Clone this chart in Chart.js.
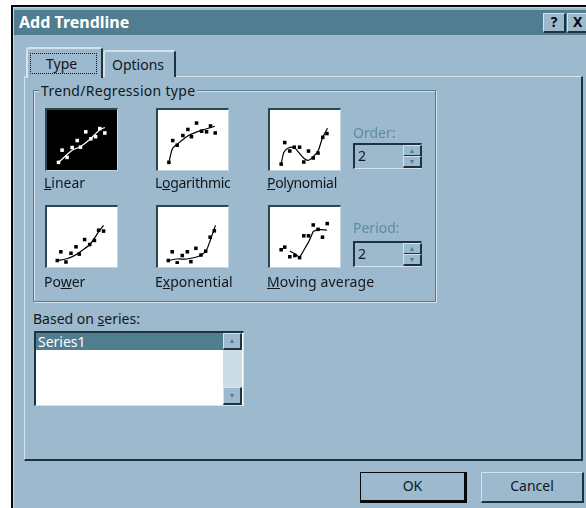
<!DOCTYPE html>
<html>
<head>
<meta charset="utf-8">
<title>Add Trendline</title>
<script src="https://cdn.jsdelivr.net/npm/chart.js@4"></script>
<style>
  html, body { margin: 0; padding: 0; background: #fff; }
  body { width: 586px; height: 508px; position: relative; overflow: hidden; font: 14px "Noto Sans", sans-serif; color: #10181e; }
  .abs { position: absolute; box-sizing: border-box; }
  .lbl { position: absolute; white-space: nowrap; line-height: 16px; }
  .dialog { left: 11px; top: 5px; width: 580px; height: 510px; background: #9cb9cd; border-left: 2px solid #05090c; border-top: 2px solid #05090c; box-shadow: inset 1px 1px 0 #c4d6e2; }
  .title { left: 14px; top: 10px; width: 572px; height: 25px; background: #507d90; color: #fff; font-weight: 700; font-size: 16px; line-height: 25px; padding-left: 5px; }
  .raised { background: #9cb9cd; border-top: 1px solid #d3e2eb; border-left: 1px solid #d3e2eb; border-right: 2px solid #1d333f; border-bottom: 2px solid #1d333f; }
  .panel { left: 24px; top: 76px; width: 559px; height: 385px; }
  .tab { background: #9cb9cd; border-top: 2px solid #d3e2eb; border-left: 2px solid #d3e2eb; border-right: 2px solid #1d333f; border-radius: 3px 3px 0 0; text-align: center; }
  .focus { border: 1px dotted #10181e; }
  .group { left: 33px; top: 90px; width: 403px; height: 212px; border: 1px solid #4f7c8e; box-shadow: 1px 1px 0 #d3e2eb, inset 1px 1px 0 #d3e2eb; }
  .legend { background: #9cb9cd; padding: 0 2px; }
  .thumb { width: 73px; height: 63px; }
  .frame { width: 73px; height: 63px; border-top: 2px solid #2b4653; border-left: 2px solid #2b4653; border-right: 1px solid #c4d6e2; border-bottom: 1px solid #c4d6e2; pointer-events: none; }
  .field { width: 69px; height: 26px; border-top: 2px solid #1d333f; border-left: 2px solid #1d333f; border-right: 1px solid #d3e2eb; border-bottom: 1px solid #d3e2eb; padding-left: 3px; line-height: 22px; }
  .spin { width: 19px; height: 12px; font-size: 7px; line-height: 9px; text-align: center; color: #507d90; }
  .list { left: 34px; top: 331px; width: 210px; height: 75px; background: #fff; border-top: 2px solid #1d333f; border-left: 2px solid #1d333f; border-right: 1px solid #d3e2eb; border-bottom: 1px solid #d3e2eb; }
  .btn { text-align: center; line-height: 26px; }
</style>
</head>
<body>
<div class="abs dialog"></div>
<div class="abs title">Add Trendline</div>
<div class="abs raised btn" style="left:543px;top:13px;width:23px;height:20px;line-height:16px;font-weight:700;font-size:14px;color:#05090c">?</div>
<div class="abs raised btn" style="left:567px;top:13px;width:23px;height:20px;line-height:16px;font-weight:700;font-size:14px;color:#05090c;text-align:left;padding-left:5px">X</div>

<div class="abs raised panel"></div>
<div class="abs tab" style="left:26px;top:47px;width:77px;height:31px"></div>
<div class="abs focus" style="left:30px;top:53px;width:67px;height:21px"></div>
<div class="lbl" style="left:46px;top:56px">Type</div>
<div class="abs tab" style="left:103px;top:50px;width:73px;height:27px"></div>
<div class="lbl" style="left:112px;top:57px">Options</div>

<div class="abs group"></div>
<div class="lbl legend" style="left:39px;top:83px;letter-spacing:.3px">Trend/Regression type</div>

<canvas class="abs thumb" id="linear" width="73" height="63" style="left:45px;top:108px"></canvas>
<canvas class="abs thumb" id="logarithmic" width="73" height="63" style="left:156px;top:108px"></canvas>
<canvas class="abs thumb" id="polynomial" width="73" height="63" style="left:268px;top:108px"></canvas>
<canvas class="abs thumb" id="power" width="73" height="63" style="left:45px;top:205px"></canvas>
<canvas class="abs thumb" id="exponential" width="73" height="63" style="left:156px;top:205px"></canvas>
<canvas class="abs thumb" id="moving" width="73" height="63" style="left:268px;top:205px"></canvas>
<div class="abs frame" style="left:45px;top:108px"></div>
<div class="abs frame" style="left:156px;top:108px"></div>
<div class="abs frame" style="left:268px;top:108px"></div>
<div class="abs frame" style="left:45px;top:205px"></div>
<div class="abs frame" style="left:156px;top:205px"></div>
<div class="abs frame" style="left:268px;top:205px"></div>

<div class="lbl" style="left:44px;top:175px"><u>L</u>inear</div>
<div class="lbl" style="left:155px;top:175px;letter-spacing:-.3px">L<u>o</u>garithmic</div>
<div class="lbl" style="left:267px;top:175px;letter-spacing:-.3px"><u>P</u>olynomial</div>
<div class="lbl" style="left:44px;top:274px">Po<u>w</u>er</div>
<div class="lbl" style="left:155px;top:274px">E<u>x</u>ponential</div>
<div class="lbl" style="left:267px;top:274px;letter-spacing:.15px"><u>M</u>oving average</div>

<div class="lbl" style="left:353px;top:125px;color:#5f8ba0">Order:</div>
<div class="abs field" style="left:353px;top:143px">2</div>
<div class="abs raised spin" style="left:403px;top:145px">&#9650;</div>
<div class="abs raised spin" style="left:403px;top:156px">&#9660;</div>
<div class="lbl" style="left:353px;top:220px;color:#5f8ba0">Period:</div>
<div class="abs field" style="left:353px;top:241px">2</div>
<div class="abs raised spin" style="left:403px;top:243px">&#9650;</div>
<div class="abs raised spin" style="left:403px;top:254px">&#9660;</div>

<div class="lbl" style="left:33px;top:311px">Based on <u>s</u>eries:</div>
<div class="abs list"></div>
<div class="abs" style="left:36px;top:333px;width:187px;height:17px;background:#507d90;color:#fff;padding-left:2px;line-height:17px">Series1</div>
<div class="abs" style="left:223px;top:333px;width:19px;height:72px;background:#cddde7"></div>
<div class="abs raised spin" style="left:223px;top:333px;height:17px;line-height:14px">&#9650;</div>
<div class="abs raised spin" style="left:223px;top:387px;height:18px;line-height:15px">&#9660;</div>

<div class="abs raised btn" style="left:360px;top:472px;width:107px;height:31px;border-right:3px solid #05090c;border-bottom:3px solid #05090c;outline:1px solid #05090c;outline-offset:-1px">OK</div>
<div class="abs raised btn" style="left:481px;top:472px;width:103px;height:31px">Cancel</div>

<script>
const linearX = [10.7, 14.7, 20.3, 26, 31.7, 35.3, 41.3, 47, 52.3, 57, 62.7];
const linearY = [5.3, 19.3, 11, 22.3, 30.3, 22.7, 40.3, 32.3, 34.7, 44, 39];
const linearFitX = [10.7, 20.3, 26, 35.3, 47, 57, 62.7];
const linearFitY = [5.3, 14.3, 19.3, 23.3, 32.7, 42.7, 45.3];

const logX = [10, 14.3, 19.3, 25.7, 31.3, 35.3, 41, 46.7, 52.3, 56.7, 62];
const logY = [5.3, 30.3, 25, 36, 43, 34.7, 50.3, 41, 40.3, 47, 39];
const logFitX = [10, 14, 19.3, 30.7, 40.7, 50.7, 61.7];
const logFitY = [5.3, 21, 26, 35.3, 40, 43.3, 46.7];

const polyX = [10.3, 14.3, 20, 25, 31, 35.7, 41, 46.3, 51.7, 57, 61.7];
const polyY = [3.3, 28, 18.3, 22.7, 22.7, 5.7, 18.3, 10.3, 16, 34, 38.3];
const polyFitX = [10.3, 13.3, 18.3, 25, 30, 35.7, 41, 46.3, 51.7, 56.7, 62.3];
const polyFitY = [3.3, 16.7, 21.7, 22.3, 16.7, 10, 7.7, 11.7, 18.3, 33.3, 44.3];

const powerX = [9.3, 13.3, 19, 24.7, 30.3, 34, 40, 45.7, 51, 55.7, 61.3];
const powerY = [4, 14, 2.3, 12.3, 19.7, 11.3, 28, 22.3, 27, 38.7, 37.7];
const powerFitX = [9.3, 19, 27.3, 34, 45.7, 55.7, 61.3];
const powerFitY = [4, 5.7, 9, 13.3, 22.3, 36.7, 44.3];

const expX = [9.3, 13.7, 19.3, 25, 30.7, 34.7, 40.3, 46, 51.3, 56.3, 61];
const expY = [4, 14, 1.3, 9.7, 14, 2.7, 18, 10.3, 14.7, 30.7, 38];
const expFitX = [9.3, 19.3, 30, 40, 46.7, 51.7, 56.3, 62.3];
const expFitY = [4, 5.7, 5.7, 7.7, 10.7, 15, 26.7, 44.3];

const movingX = [10.3, 14.3, 20, 25.7, 31, 35.7, 41, 46.3, 51.7, 56.7, 62];
const movingY = [16.3, 19.3, 8.3, 9.7, 7.3, 32.3, 32.3, 44.7, 39.7, 30.7, 46.3];
const movingFitX = [20, 25.7, 31, 35.7, 41, 46.3, 51.7, 61.7];
const movingFitY = [15, 11.7, 7.3, 15.7, 25, 37.3, 39.7, 38.7];

function zip(xs, ys) {
  return xs.map((x, i) => ({ x, y: ys[i] }));
}

function drawThumb(id, xs, ys, fitXs, fitYs, ink, paper, tension) {
  const canvas = document.getElementById(id);
  canvas.style.background = paper;
  new Chart(canvas, {
    type: "scatter",
    data: {
      datasets: [
        {
          data: zip(xs, ys),
          pointStyle: "rect",
          pointRadius: 2.5,
          backgroundColor: ink,
          borderWidth: 0,
        },
        {
          data: zip(fitXs, fitYs),
          showLine: true,
          pointRadius: 0,
          borderColor: ink,
          borderWidth: 1.2,
          tension,
        },
      ],
    },
    options: {
      responsive: false,
      maintainAspectRatio: false,
      animation: false,
      layout: { padding: 0 },
      plugins: { legend: { display: false }, tooltip: { enabled: false } },
      scales: {
        x: { display: false, min: 0, max: 73 },
        y: { display: false, min: 0, max: 63 },
      },
    },
  });
}

drawThumb("linear", linearX, linearY, linearFitX, linearFitY, "#ffffff", "#000000", 0.2);
drawThumb("logarithmic", logX, logY, logFitX, logFitY, "#000000", "#ffffff", 0.3);
drawThumb("polynomial", polyX, polyY, polyFitX, polyFitY, "#000000", "#ffffff", 0.3);
drawThumb("power", powerX, powerY, powerFitX, powerFitY, "#000000", "#ffffff", 0.3);
drawThumb("exponential", expX, expY, expFitX, expFitY, "#000000", "#ffffff", 0.3);
drawThumb("moving", movingX, movingY, movingFitX, movingFitY, "#000000", "#ffffff", 0);
</script>
</body>
</html>
